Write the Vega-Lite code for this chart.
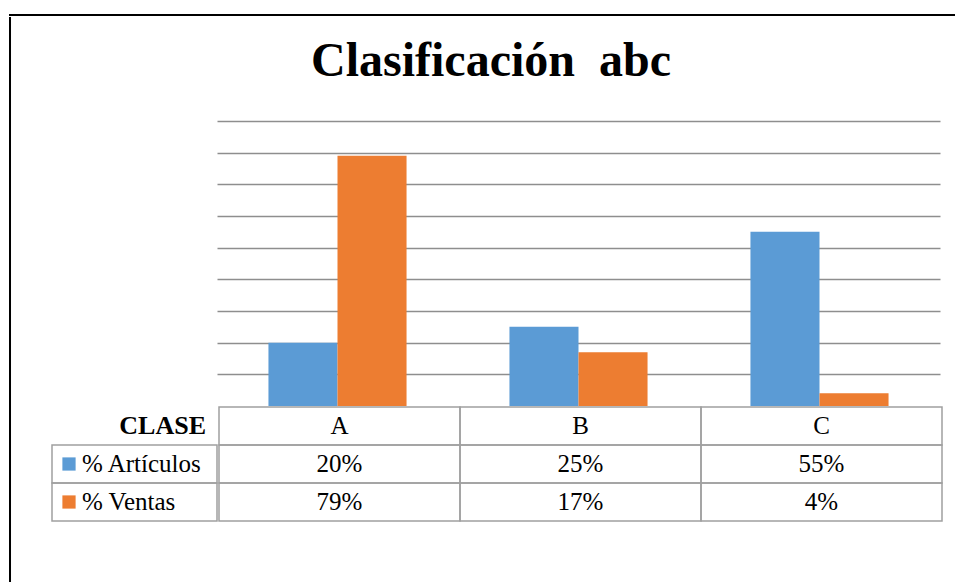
{
  "$schema": "https://vega.github.io/schema/vega-lite/v6.json",
  "padding": {"top": 14, "left": 9, "right": 0, "bottom": 0},
  "config": {"view": {"stroke": null}, "font": "Liberation Serif", "concat": {"spacing": 0},
    "title": {"font": "Liberation Serif", "fontWeight": "bold", "color": "black"},
    "style": {"group-title": {"font": "Liberation Serif", "fontWeight": "bold"}}},
  "datasets": {
    "datos": [
      {"clase": "A", "serie": "% Artículos", "valor": 0.20},
      {"clase": "B", "serie": "% Artículos", "valor": 0.25},
      {"clase": "C", "serie": "% Artículos", "valor": 0.55},
      {"clase": "A", "serie": "% Ventas", "valor": 0.79},
      {"clase": "B", "serie": "% Ventas", "valor": 0.17},
      {"clase": "C", "serie": "% Ventas", "valor": 0.04}
    ],
    "filas": [
      {"fila": "CLASE"},
      {"fila": "% Artículos"},
      {"fila": "% Ventas"}
    ]
  },
  "vconcat": [
    {"width": 945, "height": 0.01, "data": {"values": []}, "mark": "point", "view": {"stroke": "black", "strokeWidth": 2}},
    {
      "spacing": 39,
      "hconcat": [
        {"width": 0.01, "height": 566, "data": {"values": []}, "mark": "point", "view": {"stroke": "black", "strokeWidth": 2}},
        {
          "spacing": 0,
          "vconcat": [
            {"width": 0.01, "height": 20, "data": {"values": []}, "mark": "point"},
            {
              "title": {"text": "Clasificación\u00a0 abc", "fontSize": 48, "fontWeight": "bold", "font": "Liberation Serif", "color": "black", "anchor": "middle", "offset": 35, "dx": -5},
              "spacing": 0,
              "hconcat": [
                {"width": 165, "height": 285, "data": {"values": []}, "mark": "point"},
                {
                  "width": 723, "height": 285,
                  "data": {"name": "datos"},
                  "mark": {"type": "bar"},
                  "encoding": {
                    "x": {"field": "clase", "type": "nominal", "scale": {"domain": ["A", "B", "C"], "paddingInner": 0.427, "paddingOuter": 0.2135}, "axis": null},
                    "xOffset": {"field": "serie", "type": "nominal", "scale": {"domain": ["% Artículos", "% Ventas"]}},
                    "y": {"field": "valor", "type": "quantitative", "scale": {"domain": [0, 0.9]},
                      "axis": {"values": [0.1, 0.2, 0.3, 0.4, 0.5, 0.6, 0.7, 0.8, 0.9], "labels": false, "ticks": false, "domain": false, "grid": true, "gridColor": "#8E8E8E", "gridWidth": 1.5, "title": null}},
                    "color": {"field": "serie", "type": "nominal", "scale": {"domain": ["% Artículos", "% Ventas"], "range": ["#5B9BD5", "#ED7D31"]}, "legend": null}
                  }
                }
              ]
            },
            {
              "spacing": 0,
              "hconcat": [
                {
                  "width": 165, "height": 114,
                  "data": {"name": "filas"},
                  "encoding": {"y": {"field": "fila", "type": "nominal", "scale": {"domain": ["CLASE", "% Artículos", "% Ventas"]}, "axis": null}},
                  "layer": [
                    {"transform": [{"filter": "datum.fila != 'CLASE'"}], "mark": {"type": "rect", "filled": false, "stroke": "#A0A0A0", "strokeWidth": 1.5}},
                    {"transform": [{"filter": "datum.fila == 'CLASE'"}], "mark": {"type": "text", "x": "width", "dx": -11, "align": "right", "baseline": "middle", "fontSize": 26, "fontWeight": "bold", "color": "black", "font": "Liberation Serif"}, "encoding": {"text": {"field": "fila"}}},
                    {"transform": [{"filter": "datum.fila != 'CLASE'"}], "mark": {"type": "text", "x": 30, "align": "left", "baseline": "middle", "fontSize": 25, "color": "black", "font": "Liberation Serif"}, "encoding": {"text": {"field": "fila"}}},
                    {"transform": [{"filter": "datum.fila != 'CLASE'"}], "mark": {"type": "square", "x": 17, "size": 175, "filled": true, "opacity": 1},
                      "encoding": {"color": {"field": "fila", "type": "nominal", "scale": {"domain": ["% Artículos", "% Ventas"], "range": ["#5B9BD5", "#ED7D31"]}, "legend": null}}}
                  ]
                },
                {
                  "width": 723, "height": 114,
                  "data": {"name": "datos"},
                  "layer": [
                    {"mark": {"type": "rect", "filled": false, "stroke": "#A0A0A0", "strokeWidth": 1.5},
                      "encoding": {
                        "x": {"field": "clase", "type": "nominal", "scale": {"domain": ["A", "B", "C"]}, "axis": null},
                        "y": {"field": "serie", "type": "nominal", "scale": {"domain": ["CLASE", "% Artículos", "% Ventas"]}, "axis": null}}},
                    {"transform": [{"filter": "datum.serie == '% Artículos'"}], "mark": {"type": "rect", "filled": false, "stroke": "#A0A0A0", "strokeWidth": 1.5},
                      "encoding": {
                        "x": {"field": "clase", "type": "nominal", "axis": null},
                        "y": {"datum": "CLASE", "type": "nominal", "axis": null}}},
                    {"mark": {"type": "text", "fontSize": 25, "baseline": "middle", "color": "black", "font": "Liberation Serif"},
                      "encoding": {
                        "x": {"field": "clase", "type": "nominal", "axis": null},
                        "y": {"field": "serie", "type": "nominal", "axis": null},
                        "text": {"field": "valor", "type": "quantitative", "format": ".0%"}}},
                    {"transform": [{"filter": "datum.serie == '% Artículos'"}], "mark": {"type": "text", "fontSize": 25, "baseline": "middle", "color": "black", "font": "Liberation Serif"},
                      "encoding": {
                        "x": {"field": "clase", "type": "nominal", "axis": null},
                        "y": {"datum": "CLASE", "type": "nominal", "axis": null},
                        "text": {"field": "clase", "type": "nominal"}}}
                  ]
                }
              ]
            }
          ]
        }
      ]
    }
  ]
}
